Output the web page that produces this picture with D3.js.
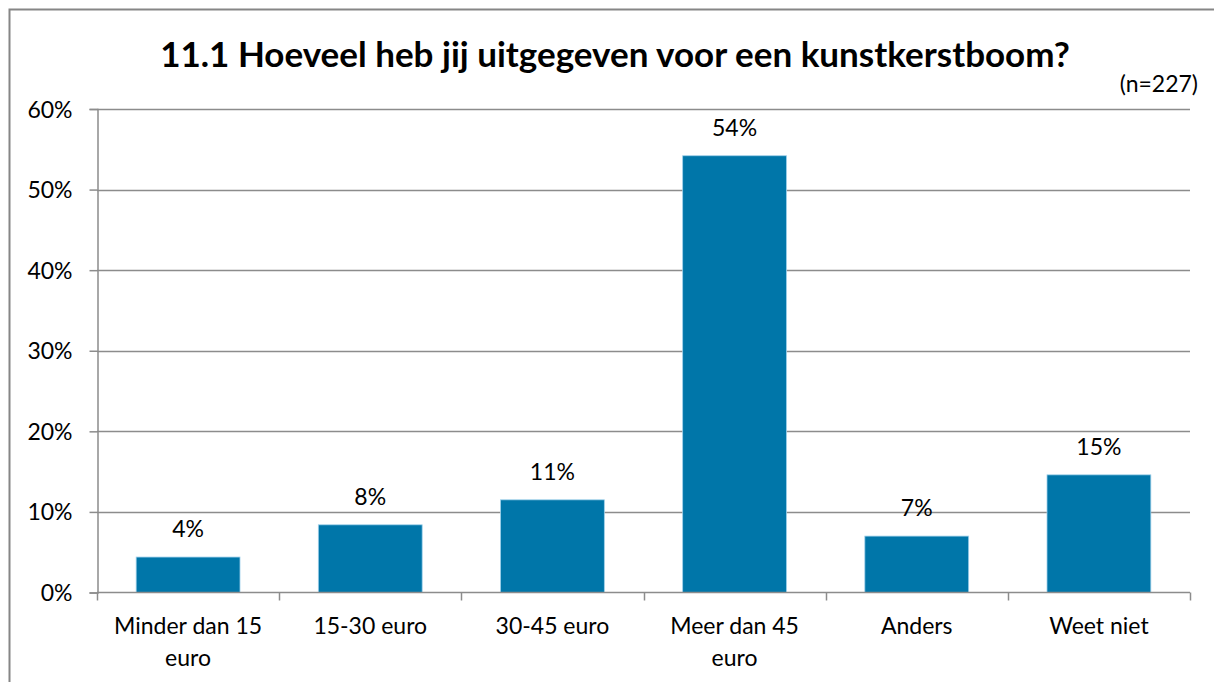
<!DOCTYPE html>
<meta charset="utf-8">
<script src="https://cdn.jsdelivr.net/npm/d3@7"></script>
<style>
    body { margin: 0; background: #fff; }
    text { font-family: Lato, "Noto Sans", sans-serif; fill: #000; }
    .grid line { stroke: #8c8c8c; stroke-width: 1.3; }
</style>
<body>
<script>
    // chart data
    const categories = ["Minder dan 15 euro", "15-30 euro", "30-45 euro", "Meer dan 45 euro", "Anders", "Weet niet"];
    const labelLines = [["Minder dan 15", "euro"], ["15-30 euro"], ["30-45 euro"], ["Meer dan 45", "euro"], ["Anders"], ["Weet niet"]];
    const values = [4.4, 8.4, 11.5, 54.2, 7.0, 14.6];
    const valueLabels = ["4%", "8%", "11%", "54%", "7%", "15%"];
    const yTicks = [0, 10, 20, 30, 40, 50, 60];

    const width = 1214, height = 682;
    const margin = {top: 109, right: 24, bottom: 90, left: 97};
    const fontSize = "23px";

    const svg = d3.select("body").append("svg")
        .attr("width", width)
        .attr("height", height);

    // outer chart border
    svg.append("rect")
        .attr("x", 9.5).attr("y", 9.5)
        .attr("width", width + 20).attr("height", height + 20)
        .attr("fill", "none")
        .attr("stroke", "#868686")
        .attr("stroke-width", 2);

    const x = d3.scaleBand()
        .domain(categories)
        .range([margin.left, width - margin.right])
        .paddingInner(0.43)
        .paddingOuter(0.215);

    const y = d3.scaleLinear()
        .domain([0, 60])
        .range([height - margin.bottom + 0.5, margin.top]);

    // gridlines
    svg.append("g")
        .attr("class", "grid")
        .selectAll("line")
        .data(yTicks.slice(1))
        .enter().append("line")
        .attr("x1", margin.left)
        .attr("x2", width - margin.right)
        .attr("y1", d => Math.round(y(d)) + 0.5)
        .attr("y2", d => Math.round(y(d)) + 0.5);

    // bars
    svg.append("g")
        .selectAll("rect")
        .data(values)
        .enter().append("rect")
        .attr("x", (d, i) => x(categories[i]))
        .attr("y", d => y(d))
        .attr("width", x.bandwidth())
        .attr("height", d => y(0) - y(d))
        .attr("fill", "#0076a9")
        .attr("stroke", "#9fd0ea")
        .attr("stroke-width", 0.8);

    // value labels
    svg.append("g")
        .selectAll("text")
        .data(values)
        .enter().append("text")
        .attr("x", (d, i) => x(categories[i]) + x.bandwidth() / 2)
        .attr("y", d => y(d) - 20)
        .attr("text-anchor", "middle")
        .style("font-size", fontSize)
        .text((d, i) => valueLabels[i]);

    // y axis
    const yAxis = svg.append("g")
        .attr("transform", "translate(" + (margin.left + 0.5) + ",0)")
        .call(d3.axisLeft(y).tickValues(yTicks).tickSize(8).tickFormat(d => d + "%"));
    yAxis.select(".domain").attr("stroke", "#8c8c8c").attr("stroke-width", 1.5);
    yAxis.selectAll(".tick line").attr("stroke", "#8c8c8c").attr("stroke-width", 1.5);
    yAxis.selectAll(".tick text")
        .attr("x", -25)
        .attr("dy", "0.35em")
        .style("font-size", fontSize)
        .style("font-family", "Lato, 'Noto Sans', sans-serif")
        .attr("fill", "#000");

    // x axis: ticks at band boundaries
    const x0 = margin.left, x1 = width - margin.right;
    const xg = svg.append("g");
    xg.append("line")
        .attr("x1", x0).attr("x2", x1)
        .attr("y1", y(0)).attr("y2", y(0))
        .attr("stroke", "#8c8c8c").attr("stroke-width", 1.5);
    xg.selectAll("line.tk")
        .data(d3.range(categories.length + 1))
        .enter().append("line")
        .attr("class", "tk")
        .attr("x1", i => Math.round(x0 + i * (x1 - x0) / categories.length) + 0.5)
        .attr("x2", i => Math.round(x0 + i * (x1 - x0) / categories.length) + 0.5)
        .attr("y1", y(0)).attr("y2", y(0) + 8)
        .attr("stroke", "#8c8c8c").attr("stroke-width", 1.5);

    // category labels
    const catText = xg.selectAll("text.cat")
        .data(categories)
        .enter().append("text")
        .attr("class", "cat")
        .attr("x", d => x(d) + x.bandwidth() / 2)
        .attr("y", 634)
        .attr("text-anchor", "middle")
        .style("font-size", fontSize);
    catText.selectAll("tspan")
        .data((d, i) => labelLines[i])
        .enter().append("tspan")
        .attr("x", function () { return this.parentNode.getAttribute("x"); })
        .attr("dy", (d, i) => i === 0 ? 0 : 32)
        .text(d => d);

    // title
    svg.append("text")
        .attr("x", 615)
        .attr("y", 67)
        .attr("text-anchor", "middle")
        .style("font-size", "35px")
        .style("font-weight", "bold")
        .text("11.1 Hoeveel heb jij uitgegeven voor een kunstkerstboom?");

    svg.append("text")
        .attr("x", 1198)
        .attr("y", 92)
        .attr("text-anchor", "end")
        .style("font-size", fontSize)
        .text("(n=227)");
</script>
</body>
</html>
